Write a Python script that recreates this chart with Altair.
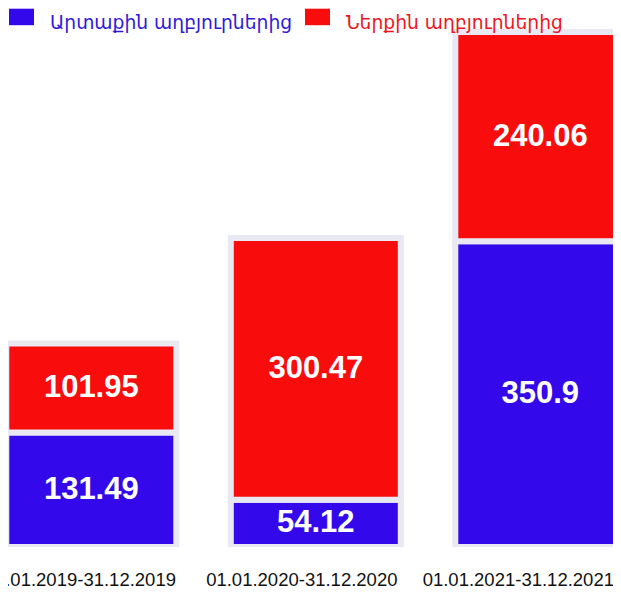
import altair as alt
import pandas as pd

periods = ["01.01.2019-31.12.2019", "01.01.2020-31.12.2020", "01.01.2021-31.12.2021"]
series = ["Արտաքին աղբյուրներից", "Ներքին աղբյուրներից"]
external = [131.49, 54.12, 350.9]
internal = [101.95, 300.47, 240.06]
bar_colors = ["#3309eb", "#f80c0c"]
legend_text_colors = ["#3018d8", "#ee1520"]

rows = []
for i, p in enumerate(periods):
    rows.append({"period": p, "series": series[0], "order": 0, "value": external[i]})
    rows.append({"period": p, "series": series[1], "order": 1, "value": internal[i]})
df = pd.DataFrame(rows)

x = alt.X(
    "period:N", sort=periods, title=None,
    scale=alt.Scale(range=[-28.95, 644.55], paddingInner=0.2428, paddingOuter=0.1214),
    axis=alt.Axis(labelAngle=0, domain=False, ticks=False, tickSize=0, grid=False,
                  labelPadding=23,
                  labelOffset=alt.ExprRef("datum.index == 0 ? -11 : (datum.index == 1 ? -22 : -14)"),
                  labelFontSize=18.5,
                  labelFont="Liberation Sans", labelColor="#111111", labelLimit=400),
)
yscale = alt.Scale(domain=[0, 618.5], nice=False, zero=True)

base = (
    alt.Chart(df)
    .transform_stack(stack="value", as_=["y0", "y1"], groupby=["period"],
                     sort=[alt.SortField("order", order="ascending")])
    .transform_calculate(mid="(datum.y0 + datum.y1) / 2")
)

bars = base.mark_bar(clip=True, stroke="#e9e9f4", strokeWidth=6).encode(
    x=x,
    y=alt.Y("y0:Q", scale=yscale, axis=None),
    y2="y1:Q",
    color=alt.Color(
        "series:N",
        scale=alt.Scale(domain=series, range=bar_colors),
        legend=alt.Legend(
            title=None, orient="none", legendX=1, legendY=1.8, direction="horizontal",
            symbolType="M-1,-1.12H1V0.2H-1Z", symbolSize=625, symbolStrokeWidth=0,
            symbolOpacity=1, labelFont="DejaVu Sans", labelFontSize=18.7, labelLimit=400,
            labelOffset=16, columnPadding=12, padding=0,
            labelColor=alt.ExprRef(
                f"datum.index == 0 ? '{legend_text_colors[0]}' : '{legend_text_colors[1]}'"
            ),
        ),
    ),
)

text = base.mark_text(
    font="Liberation Sans", fontWeight="bold", fontSize=31, color="white", baseline="middle"
).encode(
    x=x,
    y=alt.Y("mid:Q", scale=yscale, axis=None),
    text=alt.Text("value:Q", format=".2~f"),
)

chart = (
    alt.layer(bars, text)
    .properties(width=605, height=539, autosize=alt.AutoSizeParams(type="none"),
                padding={"left": 0, "top": 0, "right": 0, "bottom": 46},
                background="white")
    .configure_view(stroke=None)
)

chart.save("out.html", embed_options={"renderer": "svg", "actions": False})
